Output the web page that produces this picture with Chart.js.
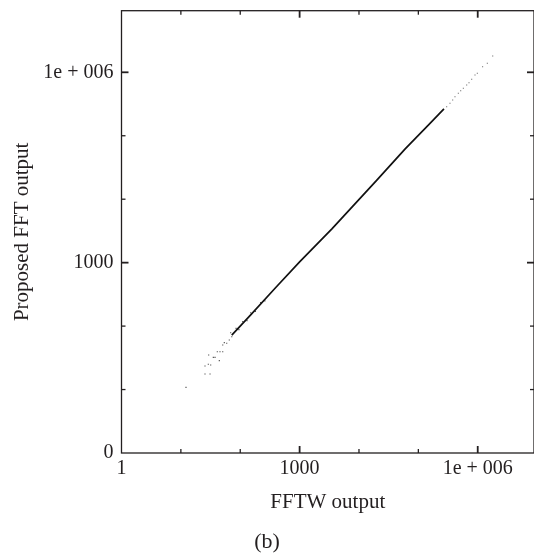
<!DOCTYPE html>
<html>
<head>
<meta charset="utf-8">
<script src="https://cdn.jsdelivr.net/npm/chart.js@4/dist/chart.umd.min.js"></script>
<style>
  body { margin: 0; background: #fff; }
  canvas { display: block; }
</style>
</head>
<body>
<canvas id="fftChart" width="534" height="553"></canvas>
<script>
// axis ticks (log decades)
const xTickValues = [1, 1000, 1e6];
const xTickLabels = ["1", "1000", "1e + 006"];
const yTickValues = [1, 1000, 1e6];
const yTickLabels = ["0", "1000", "1e + 006"];
const minorTickValues = [10, 100, 1e4, 1e5];

// sparse points at the low end
const lowX = [12.2, 25.5, 31.0, 25.5, 29.0, 31.8, 29.4, 35.2, 37.6, 44.4, 41.1, 45.6, 50.7, 50.7, 53.9, 59.2, 65.4, 69.0, 72, 85, 95, 110, 130, 150, 180, 220, 260];
const lowY = [10.8, 17.6, 17.6, 23.5, 25.0, 24.4, 35.1, 32.2, 32.2, 28.5, 39.5, 39.5, 39.5, 50.4, 54.8, 53.6, 60.4, 78.7, 68, 92, 88, 118, 122, 162, 170, 235, 250];

// dense body of the cloud
const denseX = [72, 150, 400, 1000, 3500, 2e4, 6e4, 1.5e5, 2.7e5];
const denseY = [72, 150, 410, 1030, 3400, 2e4, 6.2e4, 1.5e5, 2.65e5];

// sparse points at the high end
const highX = [3.0e5, 3.41e5, 3.79e5, 4.14e5, 4.71e5, 5.17e5, 5.72e5, 6.52e5, 7.13e5, 7.92e5, 9.0e5, 9.84e5, 1.21e6, 1.45e6, 1.79e6];
const highY = [2.87e5, 3.25e5, 3.66e5, 4.13e5, 4.67e5, 5.13e5, 5.60e5, 6.31e5, 6.86e5, 7.76e5, 9.06e5, 9.64e5, 1.22e6, 1.39e6, 1.81e6];

const ink = "#231f20";
const serif = "'Liberation Serif', 'DejaVu Serif', serif";

const toPoints = (xs, ys) => xs.map((x, i) => ({ x: x, y: ys[i] }));

function noPadding(s) {
	s.paddingTop = 0;
	s.paddingBottom = 0;
	s.paddingLeft = 0;
	s.paddingRight = 0;
}

// frame with inward ticks on all four sides
const framePlugin = {
	id: "frame",
	afterDraw(chart) {
		const { ctx, chartArea: a, scales } = chart;
		ctx.save();
		ctx.strokeStyle = ink;
		ctx.lineWidth = 1.3;
		ctx.strokeRect(a.left, a.top, a.right - a.left, a.bottom - a.top);

		function tick(x1, y1, x2, y2, w) {
			ctx.lineWidth = w;
			ctx.beginPath();
			ctx.moveTo(x1, y1);
			ctx.lineTo(x2, y2);
			ctx.stroke();
		}
		const groups = [
			{ vals: xTickValues.slice(1), len: 7, w: 1.8 },
			{ vals: minorTickValues, len: 4, w: 1.3 },
		];
		groups.forEach(function (g) {
			g.vals.forEach(function (v) {
				const px = scales.x.getPixelForValue(v);
				tick(px, a.bottom, px, a.bottom - g.len, g.w);
				tick(px, a.top, px, a.top + g.len, g.w);
				const py = scales.y.getPixelForValue(v);
				tick(a.left, py, a.left + g.len, py, g.w);
				tick(a.right, py, a.right - g.len, py, g.w);
			});
		});
		ctx.restore();
	},
};

const ctx = document.getElementById("fftChart").getContext("2d");
const fftChart = new Chart(ctx, {
	type: "scatter",
	data: {
		datasets: [
			{
				data: toPoints(denseX, denseY),
				showLine: true,
				borderColor: "#111",
				borderWidth: 1.7,
				pointRadius: 0,
			},
			{
				data: toPoints(lowX, lowY),
				backgroundColor: "rgba(30,30,30,0.8)",
				borderWidth: 0,
				pointStyle: "rect",
				pointRadius: 0.8,
			},
			{
				data: toPoints(highX, highY),
				backgroundColor: "rgba(40,40,40,0.75)",
				borderWidth: 0,
				pointStyle: "rect",
				pointRadius: 0.7,
			},
		],
	},
	options: {
		responsive: false,
		animation: false,
		layout: { autoPadding: false, padding: { top: 10.7, left: 0, right: 0, bottom: 0 } },
		plugins: {
			legend: { display: false },
			tooltip: { enabled: false },
			title: {
				display: true,
				text: "(b)",
				position: "bottom",
				color: ink,
				font: { family: serif, size: 22, weight: "normal", lineHeight: 1 },
				padding: { top: 0, bottom: 0 },
			},
		},
		scales: {
			x: {
				type: "logarithmic",
				min: 1,
				max: 8.87e6,
				grid: { display: false, drawTicks: false },
				border: { display: false },
				afterBuildTicks: function (s) {
					s.ticks = xTickValues.map((v) => ({ value: v }));
				},
				afterFit: function (s) {
					s.height = 78;
					noPadding(s);
				},
				ticks: {
					autoSkip: false,
					maxRotation: 0,
					padding: 0,
					color: ink,
					font: { family: serif, size: 20, lineHeight: 1.6 },
					callback: (v, i) => xTickLabels[i],
				},
				title: {
					display: true,
					text: "FFTW output",
					color: ink,
					font: { family: serif, size: 21 },
					padding: { top: 0, bottom: 16 },
				},
			},
			y: {
				type: "logarithmic",
				min: 1,
				max: 9.35e6,
				grid: { display: false, drawTicks: false },
				border: { display: false },
				afterBuildTicks: function (s) {
					s.ticks = yTickValues.map((v) => ({ value: v }));
				},
				afterFit: function (s) {
					s.width = 121.5;
					noPadding(s);
				},
				ticks: {
					autoSkip: false,
					padding: 8,
					color: ink,
					font: { family: serif, size: 20 },
					callback: (v, i) => yTickLabels[i],
				},
				title: {
					display: true,
					text: "Proposed FFT output",
					color: ink,
					font: { family: serif, size: 21 },
					padding: { top: 10, bottom: 0 },
				},
			},
		},
	},
	plugins: [framePlugin],
});
</script>
</body>
</html>
